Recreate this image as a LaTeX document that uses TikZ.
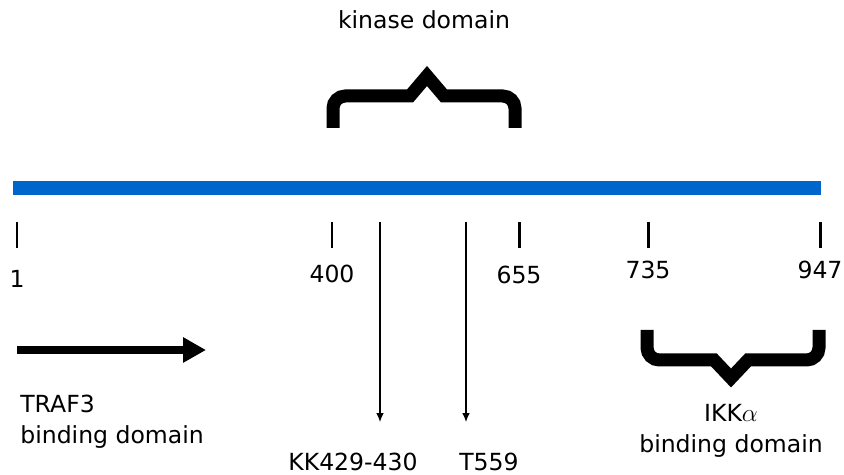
\documentclass[tikz,border=0pt]{standalone}
\usepackage{fontspec}
\setmainfont{DejaVu Sans}
\usetikzlibrary{arrows.meta, positioning}
\definecolor{barblue}{RGB}{0,102,204}
\tikzset{
  chain/.style={line width=8.5pt, draw=barblue},
  tickmark/.style={line width=1.7pt},
  txt/.style={font=\fontsize{13.4}{17.5}\selectfont, inner sep=0pt},
  bracket/.style={line width=7.4pt, line join=miter},
  site/.style={-{Latex[length=5pt,width=4.2pt]}, line width=0.6pt},
  region/.style={-{Triangle[length=13pt,width=13.6pt]}, line width=4pt}
}

\begin{document}
\begin{tikzpicture}[x=0.02cm, y=-0.02cm]
\useasboundingbox (0,0) rectangle (844,475);

% protein chain
\coordinate (nterm) at (13,188);
\coordinate (cterm) at (821,188);
\draw[chain] (nterm) -- (cterm);

% residue positions
\foreach \x/\n/\ly in {17/1/279, 332/400/274, 519/655/275, 648/735/270, 820/947/270}{
  \draw[tickmark] (\x,222) -- (\x,248);
  \node[txt] (pos\n) at (\x,\ly) {\n};
}

% kinase domain
\draw[bracket] (333,128) [rounded corners=7pt] -- (333,96) [sharp corners] -- (410,96)
  -- (427,76) -- (444,96) [rounded corners=7pt] -- (515,96) [sharp corners] -- (515,128);
\node[txt] (kinase) at (424,20) {kinase domain};

% modification sites
\coordinate (kktop) at (380,222);
\coordinate (kkend) at (380,422);
\coordinate (ttop) at (466,222);
\coordinate (tend) at (466,422);
\draw[site] (kktop) -- (kkend);
\draw[site] (ttop) -- (tend);
\node[txt] (kk) at (353,462) {KK429-430};
\node[txt] (t559) at (489,462) {T559};

% TRAF3 binding domain
\coordinate (trafstart) at (17,350);
\coordinate (trafend) at (206,350);
\draw[region] (trafstart) -- (trafend);
\node[txt, anchor=north west, align=left] (traf) at (20,395) {TRAF3\\binding domain};

% IKK alpha binding domain
\draw[bracket] (647,330) [rounded corners=7pt] -- (647,360) [sharp corners] -- (714,360)
  -- (731,378) -- (748,360) [rounded corners=7pt] -- (819,360) [sharp corners] -- (819,330);
\node[txt, align=center, font=\fontsize{13.4}{18}\selectfont] (ikk) at (731,431) {IKK$\alpha$\\binding domain};

\end{tikzpicture}
\end{document}
